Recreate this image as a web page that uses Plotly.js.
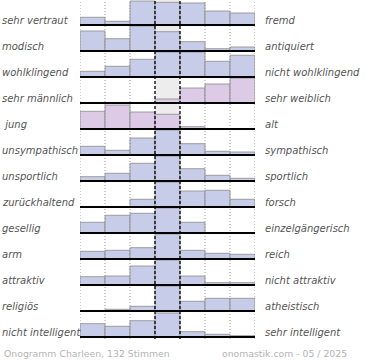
<!DOCTYPE html>
<html><head><meta charset="utf-8">
<script src="https://cdn.plot.ly/plotly-3.0.1.min.js"></script>
<style>html,body{margin:0;padding:0;background:#fff}#chart{width:370px;height:360px}</style>
</head><body><div id="chart"></div>
<script>
const leftLabels = ["sehr vertraut","modisch","wohlklingend","sehr männlich"," jung","unsympathisch","unsportlich","zurückhaltend","gesellig","arm","attraktiv","religiös","nicht intelligent"];
const rightLabels = ["fremd","antiquiert","nicht wohlklingend","sehr weiblich","alt","sympathisch","sportlich","forsch","einzelgängerisch","reich","nicht attraktiv","atheistisch","sehr intelligent"];
const bins = [1,2,3,4,5,6,7];
const row01 = [7.7,3.7,24,22.7,22,14,12];
const row02 = [20,12.3,25,19.3,9.3,2.3,4];
const row03 = [5.7,10.7,17.7,25,25,15.7,21.7];
const row04 = [0,0,0,4,15,19,25];
const row05 = [17.7,24,17,14.7,2.3,0,0];
const row06 = [8.7,4.7,17,25,11.3,3.7,3];
const row07 = [4.3,7.7,17.7,25,12.3,5.7,2.7];
const row08 = [0,0,7.7,25,16,16.7,7.7];
const row09 = [10.7,17.7,19.7,25,10.7,0,0];
const row10 = [7.7,8.7,11.3,25,8.7,5.7,4.7];
const row11 = [8.3,9,19,25,9,2.3,2.3];
const row12 = [0,1.7,4.7,25,9.7,12.7,12.7];
const row13 = [13.3,10.7,16.3,24,5.3,2.7,1.3];
const rows = [row01,row02,row03,row04,row05,row06,row07,row08,row09,row10,row11,row12,row13];
const pinkRows = [3,4];
const footerLeft = "Onogramm Charleen, 132 Stimmen";
const footerRight = "onomastik.com - 05 / 2025";

const PITCH = 26, TOPBASE = 314;
const baseOf = k => TOPBASE - PITCH*k;
const xs = bins.map(b => b - 0.5);

const traces = rows.map((vals,k) => ({
  type:'bar', x: xs, y: vals, base: vals.map(()=>baseOf(k)), width: 1,
  marker:{color: pinkRows.includes(k) ? '#dccae6' : '#c7cce9', line:{color:'rgba(145,145,145,0.85)', width:1}},
  hoverinfo:'skip', showlegend:false
}));

const shapes = [];
rows.forEach((v,k)=>{
  shapes.push({type:'rect', layer:'below', xref:'x', yref:'y', x0:3, x1:4, y0:baseOf(k), y1:baseOf(k)+PITCH, fillcolor:'#ededed', line:{width:0}});
});
[0,1,2,5,6,7].forEach(x=>shapes.push({type:'line', xref:'x', yref:'paper', x0:x, x1:x, y0:0, y1:1, line:{color:'#999', width:1, dash:'1px,2px'}}));
[3,4].forEach(x=>shapes.push({type:'line', xref:'x', yref:'paper', x0:x, x1:x, y0:0, y1:1, line:{color:'#000', width:1.3, dash:'3px,2px'}}));
rows.forEach((v,k)=>{
  shapes.push({type:'line', xref:'x', yref:'y', x0:0, x1:7.05, y0:baseOf(k), y1:baseOf(k), line:{color:'#000', width:2}});
});

const annotations = [];
rows.forEach((v,k)=>{
  const yc = baseOf(k)+5;
  annotations.push({xref:'paper', yref:'y', x:-80/175, y:yc, xanchor:'left', yanchor:'middle', text:'<i>'+leftLabels[k]+'</i>', showarrow:false, font:{family:'DejaVu Sans', size:10, color:'#555'}});
  annotations.push({xref:'paper', yref:'y', x:(263-80)/175, y:yc, xanchor:'left', yanchor:'middle', text:'<i>'+rightLabels[k]+'</i>', showarrow:false, font:{family:'DejaVu Sans', size:10, color:'#555'}});
});
annotations.push({xref:'paper', yref:'paper', x:-78/175, y:-14/339, xanchor:'left', yanchor:'middle', text:footerLeft, showarrow:false, font:{family:'DejaVu Sans', size:9.3, color:'#b4b4b4'}});
annotations.push({xref:'paper', yref:'paper', x:(220-80)/175, y:-14/339, xanchor:'left', yanchor:'middle', text:footerRight, showarrow:false, font:{family:'DejaVu Sans', size:9.3, color:'#b4b4b4'}});

const layout = {
  width:370, height:360, margin:{l:80, r:115, t:0, b:21},
  paper_bgcolor:'#fff', plot_bgcolor:'rgba(0,0,0,0)',
  barmode:'overlay', bargap:0,
  xaxis:{range:[0,7], showgrid:false, zeroline:false, showticklabels:false, ticks:'', fixedrange:true},
  yaxis:{range:[0,339], showgrid:false, zeroline:false, showticklabels:false, ticks:'', fixedrange:true},
  shapes, annotations, showlegend:false
};
Plotly.newPlot('chart', traces, layout, {displayModeBar:false, staticPlot:true});
</script></body></html>
